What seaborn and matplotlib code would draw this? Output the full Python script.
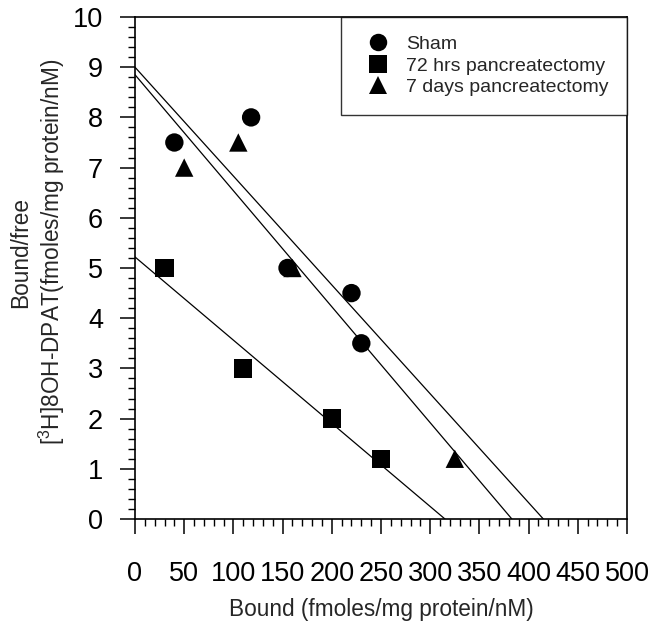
import matplotlib
matplotlib.use("Agg")
import matplotlib.pyplot as plt
from matplotlib.ticker import MultipleLocator
import pandas as pd
import seaborn as sns

# Scatchard data: bound vs bound/free
groups = ["Sham", "72 hrs pancreatectomy", "7 days pancreatectomy"]

sham_bound = [40, 118, 155, 220, 230]
sham_bf = [7.5, 8.0, 5.0, 4.5, 3.5]

hrs72_bound = [30, 110, 200, 250]
hrs72_bf = [5.0, 3.0, 2.0, 1.2]

days7_bound = [50, 105, 160, 325]
days7_bf = [7.0, 7.5, 5.0, 1.2]

# Fitted lines: y-intercept (Bmax/Kd) and x-intercept (Bmax)
line_y_intercepts = [9.0, 5.22, 8.85]
line_x_intercepts = [415, 315, 383]

sns.set_style("ticks")
plt.rcParams["font.family"] = ["Liberation Sans", "DejaVu Sans"]
plt.rcParams["mathtext.default"] = "regular"

df = pd.DataFrame({
    "bound": sham_bound + hrs72_bound + days7_bound,
    "bf": sham_bf + hrs72_bf + days7_bf,
    "group": [groups[0]] * len(sham_bound)
    + [groups[1]] * len(hrs72_bound)
    + [groups[2]] * len(days7_bound),
})

fig = plt.figure(figsize=(6.49, 6.28), dpi=100)
ax = fig.add_axes([135 / 649, 109 / 628, 492 / 649, 502 / 628])

for b, xi in zip(line_y_intercepts, line_x_intercepts):
    ax.plot([0, xi], [b, 0], color="black", lw=0.9, zorder=1)

sns.scatterplot(
    data=df, x="bound", y="bf", hue="group", style="group",
    hue_order=groups, style_order=groups,
    palette=["black"] * 3, markers=["o", "s", "^"],
    s=175, edgecolor="none", linewidth=0, ax=ax, zorder=3,
)

handles, labels = ax.get_legend_handles_labels()
leg = ax.legend(
    handles, labels, loc="upper right", bbox_to_anchor=(1.0, 1.0),
    borderaxespad=0, borderpad=0.95, labelspacing=0.2,
    handlelength=1.9, handletextpad=0.5, fontsize=14,
    frameon=True, fancybox=False, shadow=False, markerscale=0.95,
)
leg.get_frame().set_edgecolor("black")
leg.get_frame().set_linewidth(1.0)

ax.set_xlim(0, 500)
ax.set_ylim(0, 10)
ax.xaxis.set_major_locator(MultipleLocator(50))
ax.xaxis.set_minor_locator(MultipleLocator(10))
ax.yaxis.set_major_locator(MultipleLocator(1))
ax.yaxis.set_minor_locator(MultipleLocator(0.2))
ax.tick_params(which="major", direction="out", length=11, width=1.1,
               labelsize=19.5, color="black", labelcolor="black")
ax.tick_params(which="minor", direction="out", length=5, width=1, color="black")
ax.tick_params(axis="x", which="major", pad=19)
ax.tick_params(axis="y", which="major", pad=12)

for sp in ax.spines.values():
    sp.set_color("black")
    sp.set_linewidth(1.2)

ax.set_xlabel("Bound (fmoles/mg protein/nM)", fontsize=16.3, labelpad=8)
ax.set_ylabel("Bound/free\n[$^{3}$H]8OH-DPAT(fmoles/mg protein/nM)",
              fontsize=16.3, linespacing=1.2)
ax.yaxis.set_label_coords((67 - 135) / 492, (519 - 252) / 502)

fig.savefig("out.png", dpi=100)
